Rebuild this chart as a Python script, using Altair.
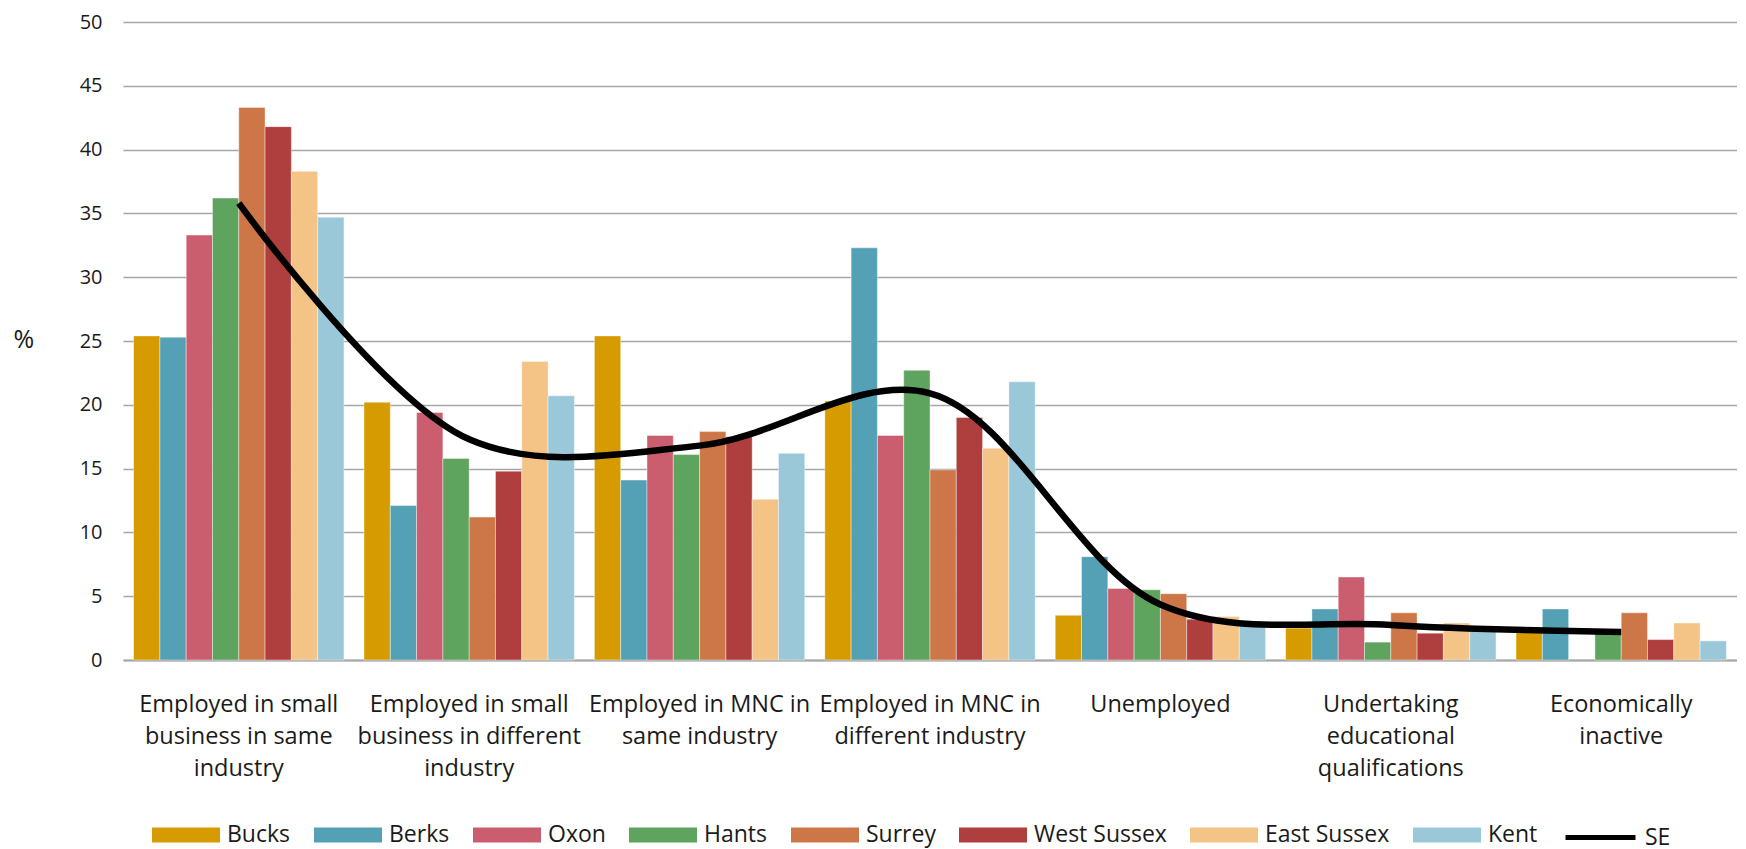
import json
import altair as alt
import pandas as pd

categories = [
    "Employed in small business in same industry",
    "Employed in small business in different industry",
    "Employed in MNC in same industry",
    "Employed in MNC in different industry",
    "Unemployed",
    "Undertaking educational qualifications",
    "Economically inactive",
]
label_lines = [
    ["Employed in small", "business in same", "industry"],
    ["Employed in small", "business in different", "industry"],
    ["Employed in MNC in", "same industry"],
    ["Employed in MNC in", "different industry"],
    ["Unemployed"],
    ["Undertaking", "educational", "qualifications"],
    ["Economically", "inactive"],
]
regions = ["Bucks", "Berks", "Oxon", "Hants", "Surrey", "West Sussex", "East Sussex", "Kent"]
region_colors = ["#D59B00", "#54A1B5", "#CA5E6E", "#5EA35E", "#CD7748", "#AF3E3F", "#F3C486", "#9BC8D8"]

bucks = [25.4, 20.2, 25.4, 20.3, 3.5, 2.5, 2.5]
berks = [25.3, 12.1, 14.1, 32.3, 8.1, 4.0, 4.0]
oxon = [33.3, 19.4, 17.6, 17.6, 5.6, 6.5, None]
hants = [36.2, 15.8, 16.1, 22.7, 5.5, 1.4, 2.1]
surrey = [43.3, 11.2, 17.9, 14.9, 5.2, 3.7, 3.7]
west_sussex = [41.8, 14.8, 17.5, 19.0, 3.2, 2.1, 1.6]
east_sussex = [38.3, 23.4, 12.6, 16.6, 3.4, 2.9, 2.9]
kent = [34.7, 20.7, 16.2, 21.8, 3.0, 2.3, 1.5]
se = [35.8, 17.3, 16.8, 20.9, 4.35, 2.75, 2.2]

series = [bucks, berks, oxon, hants, surrey, west_sussex, east_sussex, kent]
rows = []
for reg, vals in zip(regions, series):
    for cat, v in zip(categories, vals):
        if v is not None:
            rows.append({"category": cat, "region": reg, "value": v})
bars_df = pd.DataFrame(rows)
se_df = pd.DataFrame({"category": categories, "series": "SE", "value": se})

FONT = "Open Sans"
TEXT = "#1a1a1a"

label_expr = "[{}][indexof([{}], datum.label)]".format(
    ",".join("[" + ",".join(json.dumps(s) for s in lines) + "]" for lines in label_lines),
    ",".join(json.dumps(c) for c in categories),
)

x_enc = alt.X(
    "category:N",
    sort=categories,
    scale=alt.Scale(domain=categories, paddingInner=0.087, paddingOuter=0.046),
    axis=alt.Axis(
        title=None,
        labelExpr=label_expr,
        labelAngle=0,
        labelFont=FONT,
        labelFontSize=23.5,
        labelColor=TEXT,
        labelLineHeight=32,
        labelBaseline="top",
        labelPadding=32,
        labelLimit=0,
        labelOverlap=False,
        ticks=False,
        tickSize=0,
        domainColor="#A6A6A6",
        domainWidth=2,
        grid=False,
    ),
)

y_enc = alt.Y(
    "value:Q",
    scale=alt.Scale(domain=[0, 50], nice=False),
    axis=alt.Axis(
        title="%",
        titleAngle=0,
        titleX=-110,
        titleY=317,
        titleAlign="left",
        titleBaseline="middle",
        titleFont=FONT,
        titleFontSize=25,
        titleFontWeight="normal",
        titleColor=TEXT,
        values=list(range(0, 51, 5)),
        labelFont=FONT,
        labelFontSize=20,
        labelColor=TEXT,
        labelPadding=21,
        ticks=False,
        tickSize=0,
        domain=False,
        grid=True,
        gridColor="#A6A6A6",
        gridWidth=1.5,
    ),
)

bar_legend = alt.Legend(
    title=None,
    orient="none",
    direction="horizontal",
    columns=8,
    legendX=29,
    legendY=779,
    symbolType="M-1,-0.22H1V0.22H-1Z",
    symbolSize=4624,
    symbolStrokeWidth=0,
    symbolOpacity=1,
    labelOffset=7,
    columnPadding=23,
    labelFont=FONT,
    labelFontSize=23,
    labelColor=TEXT,
)

line_legend = alt.Legend(
    title=None,
    orient="none",
    direction="horizontal",
    legendX=1440,
    legendY=778,
    symbolType="stroke",
    symbolSize=4900,
    symbolStrokeWidth=5,
    symbolStrokeColor="#000000",
    labelOffset=7,
    labelFont=FONT,
    labelFontSize=23,
    labelColor=TEXT,
)

bars = alt.Chart(bars_df).mark_bar(stroke="white", strokeWidth=0.8, strokeOpacity=0.5).encode(
    x=x_enc,
    xOffset=alt.XOffset("region:N", sort=regions, scale=alt.Scale(domain=regions, paddingInner=0, paddingOuter=0)),
    y=y_enc,
    color=alt.Color("region:N", scale=alt.Scale(domain=regions, range=region_colors), legend=bar_legend),
)

line = alt.Chart(se_df).mark_line(interpolate="catmull-rom", strokeWidth=6.5).encode(
    x=alt.X("category:N", sort=categories),
    y=alt.Y("value:Q"),
    stroke=alt.Stroke("series:N", scale=alt.Scale(domain=["SE"], range=["#000000"]), legend=line_legend),
)

chart = (
    alt.layer(bars, line)
    .resolve_scale(color="independent")
    .properties(
        width=1614,
        height=638,
        autosize=alt.AutoSizeParams(type="none"),
        padding={"left": 115, "top": 14, "right": 0, "bottom": 190},
    )
    .configure_view(stroke=None)
)

chart.save("out.html", embed_options={"renderer": "svg", "actions": False})
